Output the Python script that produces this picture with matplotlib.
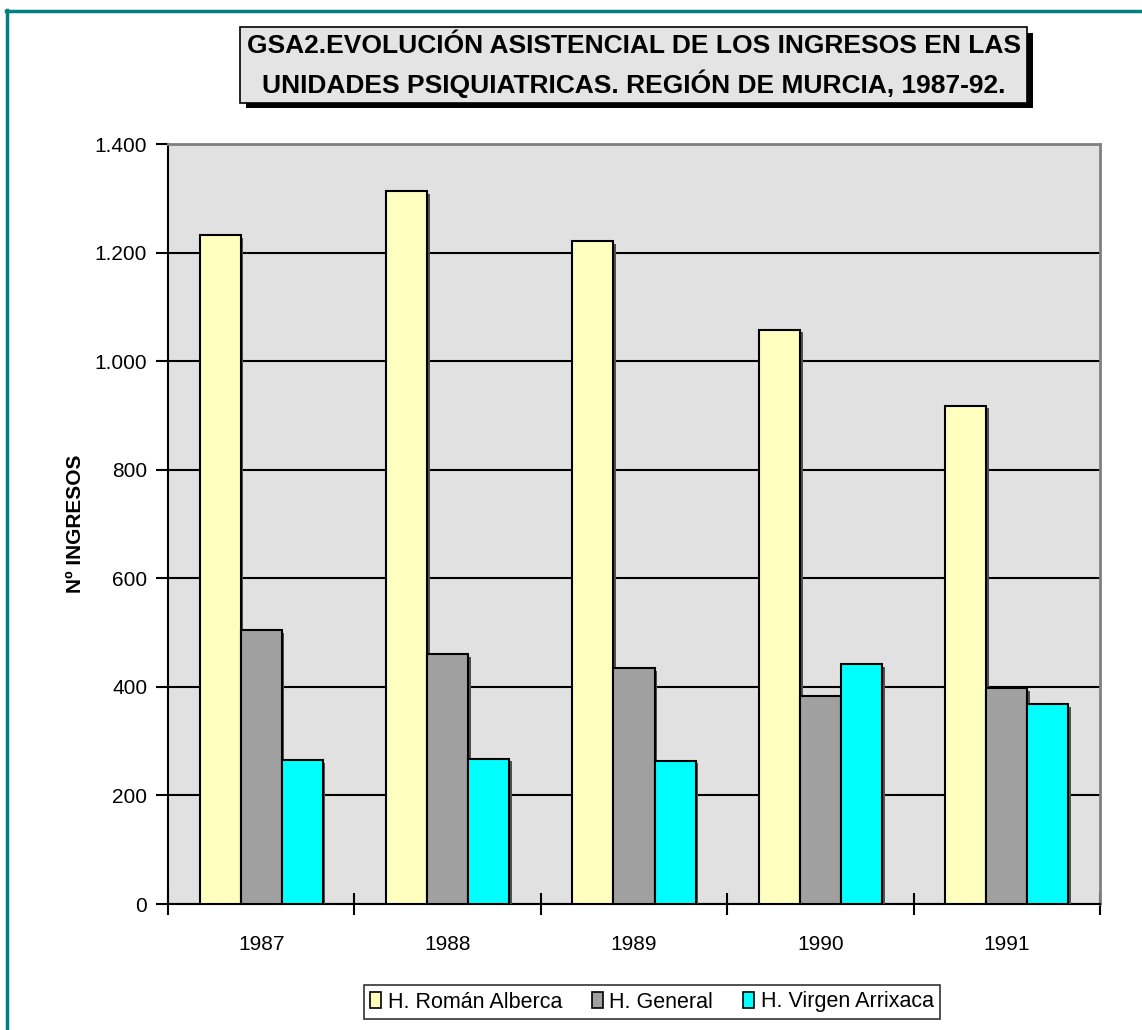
import matplotlib.pyplot as plt
import matplotlib.patheffects as pe
from matplotlib.patches import Rectangle
from matplotlib.lines import Line2D
from matplotlib.ticker import FuncFormatter
import numpy as np

plt.rcParams['font.family'] = ['Liberation Sans', 'DejaVu Sans']

# data
years = ['1987', '1988', '1989', '1990', '1991']
roman = [1232, 1313, 1221, 1058, 918]
general = [504, 460, 434, 383, 398]
virgen = [265, 268, 264, 442, 368]
series = ['H. Román Alberca', 'H. General', 'H. Virgen Arrixaca']
colors = ['#FFFFC0', '#A0A0A0', '#00FFFF']

W, H = 1142, 1030
fig = plt.figure(figsize=(W / 100, H / 100), dpi=100, facecolor='white')


def fx(px):
    return px / W


def fy(py):
    return 1 - py / H


ax = fig.add_axes([fx(168), fy(904), fx(1100) - fx(168), fy(144) - fy(904)])
ax.set_facecolor('#E1E1E1')

x = np.arange(len(years))
w = 0.22
shadow = [pe.SimplePatchShadow(offset=(2, -2), shadow_rgbFace='#505050', alpha=1), pe.Normal()]
for i, (vals, c) in enumerate(zip([roman, general, virgen], colors)):
    bars = ax.bar(x + (i - 1) * w, vals, w, color=c, edgecolor='black', linewidth=1.5, zorder=3)
    for b in bars:
        b.set_path_effects(shadow)

ax.set_xlim(-0.5, 4.5)
ax.set_ylim(0, 1400)
ax.set_yticks(range(0, 1401, 200))
ax.yaxis.set_major_formatter(FuncFormatter(lambda v, p: f'{int(v):,}'.replace(',', '.')))
ax.yaxis.grid(True, color='black', linewidth=1.5, zorder=1)
ax.set_axisbelow(True)

ax.set_xticks(np.arange(-0.5, 5, 1))
ax.set_xticklabels([])
ax.set_xticks(x, minor=True)
ax.set_xticklabels(years, minor=True)
ax.tick_params(axis='x', which='major', direction='inout', length=16, width=1.5)
ax.tick_params(axis='x', which='minor', length=0, labelsize=15, pad=22)
ax.tick_params(axis='y', direction='out', length=9, width=1.5, labelsize=15, pad=6)

for s in ['left', 'bottom']:
    ax.spines[s].set_color('black')
    ax.spines[s].set_linewidth(1.5)
for s in ['top', 'right']:
    ax.spines[s].set_color('#808080')
    ax.spines[s].set_linewidth(2)

ax.set_ylabel('Nº INGRESOS', fontsize=15, fontweight='bold', labelpad=7)

# title box with shadow
fig.patches.append(Rectangle((fx(246), fy(108)), fx(1033) - fx(246), fy(33) - fy(108),
                             transform=fig.transFigure, facecolor='black', edgecolor='none'))
fig.patches.append(Rectangle((fx(240), fy(103)), fx(1027) - fx(240), fy(27) - fy(103),
                             transform=fig.transFigure, facecolor='#E4E4E4', edgecolor='black', linewidth=1.2))
fig.text(fx(634), fy(66), 'GSA2.EVOLUCIÓN ASISTENCIAL DE LOS INGRESOS EN LAS\nUNIDADES PSIQUIATRICAS. REGIÓN DE MURCIA, 1987-92.',
         ha='center', va='center', fontsize=19, fontweight='bold', linespacing=1.45)

# legend
handles = [Rectangle((0, 0), 1, 1, facecolor=c, edgecolor='black', linewidth=1.2) for c in colors]
leg = fig.legend(handles, series, loc='center', bbox_to_anchor=(fx(652), fy(1002)), ncol=3,
                 fontsize=15.5, frameon=True, fancybox=False, edgecolor='black',
                 handlelength=0.5, handleheight=0.7, handletextpad=0.3, columnspacing=1.4,
                 borderpad=0.3, borderaxespad=0)
leg.get_frame().set_linewidth(1.2)

# teal frame
fig.add_artist(Line2D([fx(6), 1], [fy(11), fy(11)], color='#008080', linewidth=2.5))
fig.add_artist(Line2D([fx(7), fx(7)], [fy(10), 0], color='#008080', linewidth=2.5))

fig.savefig('out.png', dpi=100)
